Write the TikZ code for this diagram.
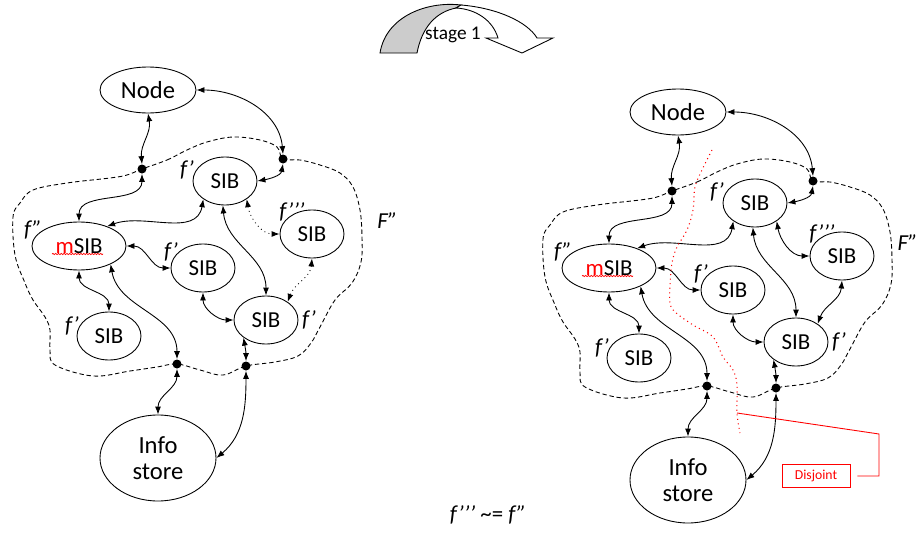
\documentclass[tikz,border=0pt]{standalone}
\usepackage{fontspec}
\setmainfont{Carlito}
\usetikzlibrary{shapes.geometric,arrows.meta,decorations.pathmorphing}
\tikzset{
  ell/.style={draw, ellipse, line width=0.5pt, inner sep=0pt},
  big/.style={ell, font=\fontsize{14}{15}\selectfont},
  sib/.style={ell, minimum width=1.28cm, minimum height=0.96cm, font=\fontsize{13}{14}\selectfont},
  dot/.style={circle, fill, inner sep=0pt, minimum size=0.18cm},
  flab/.style={font=\fontsize{13}{14}\selectfont\itshape, inner sep=0pt},
  conn/.style={{Latex[length=1.6mm,width=1.2mm]}-{Latex[length=1.6mm,width=1.2mm]}, line width=0.5pt},
  fence/.style={dash pattern=on 2.5pt off 1.6pt, line width=0.5pt},
  wavy/.style={red, line width=0.4pt, decorate, decoration={snake, amplitude=0.35pt, segment length=1.6pt}},
}
\begin{document}
\begin{tikzpicture}
\useasboundingbox (0,0) rectangle (18.38,10.64);

\filldraw[fill=gray!40, line width=0.5pt] (7.60,9.58) .. controls (7.72,10.32) and (8.55,10.62) .. (9.22,10.54) -- (9.12,10.48) .. controls (8.72,10.40) and (8.44,10.10) .. (8.34,9.58) -- cycle;
\filldraw[fill=white, line width=0.5pt] (9.22,10.54) .. controls (9.95,10.48) and (10.55,10.20) .. (10.74,9.88) -- (11.06,9.88) -- (10.44,9.58) -- (9.72,9.88) -- (9.96,9.88) .. controls (9.85,10.25) and (9.50,10.46) .. (9.12,10.48) -- cycle;
\node[font=\fontsize{11}{12}\selectfont] (stage) at (9.06,9.94) {stage 1};

\node[font=\fontsize{13}{14}\selectfont] (eq) at (9.76,0.34) {{\itshape f’’’} \textasciitilde= {\itshape f”}};

\begin{scope}
\draw[fence] plot[smooth cycle, tension=0.6] coordinates {(2.84,7.26) (3.34,7.44) (3.74,7.64) (4.14,7.80) (4.66,7.90) (5.20,7.84) (5.54,7.70) (5.66,7.46) (6.00,7.44) (6.40,7.34) (6.80,7.18) (7.06,6.90) (7.20,6.44) (7.24,5.90) (7.22,5.40) (7.04,4.98) (6.70,4.64) (6.40,4.10) (6.22,3.78) (5.96,3.52) (5.50,3.40) (4.92,3.32) (4.46,3.14) (4.00,3.24) (3.54,3.36) (3.14,3.30) (2.60,3.22) (1.86,3.12) (1.10,3.34) (1.00,3.64) (1.00,4.04) (0.90,4.30) (0.66,4.64) (0.50,4.98) (0.30,5.54) (0.26,6.30) (0.40,6.58) (0.66,6.84) (1.34,6.98) (2.20,7.08) (2.54,7.14)};

\node[big, minimum width=1.92cm, minimum height=0.92cm] (nodeA) at (2.96,8.84) {Node};
\node[sib] (sibA1) at (4.50,7.02) {SIB};
\node[sib] (sibA2) at (6.24,5.96) {SIB};
\node[sib, minimum width=1.88cm] (msibA) at (1.58,5.72) {\textcolor{red}{m}SIB};
\node[sib] (sibA3) at (4.06,5.28) {SIB};
\node[sib] (sibA4) at (5.32,4.24) {SIB};
\node[sib] (sibA5) at (2.18,3.92) {SIB};
\node[big, align=center, minimum width=2.32cm, minimum height=1.72cm] (infoA) at (3.16,1.48) {Info\\store};
\draw[wavy] ([xshift=-0.54cm,yshift=-0.16cm]msibA.center) -- ([xshift=0.48cm,yshift=-0.16cm]msibA.center);

\node[dot] (dA1) at (2.84,7.26) {};
\node[dot] (dA2) at (5.66,7.46) {};
\node[dot] (dA3) at (3.54,3.36) {};
\node[dot] (dA4) at (4.92,3.32) {};

\node[flab] (fA1) at (3.74,7.24) {f’};
\node[flab] (fA2) at (5.84,6.40) {f’’’};
\node[flab] (fA3) at (0.66,6.04) {f”};
\node[flab] (fA4) at (3.42,5.60) {f’};
\node[flab] (fA5) at (6.18,4.24) {f’};
\node[flab] (fA6) at (1.44,4.12) {f’};
\node[flab, anchor=west] (FA) at (7.54,6.22) {F”};

\draw [conn](nodeA.east) to[out=0,in=95] (dA2.north);
\draw [conn](nodeA.south) to[out=-80,in=95] (dA1.north);
\draw [conn](dA2.south) to[out=-100,in=10] (sibA1.east);
\draw [conn](dA1.south) to[out=-90,in=90] (msibA.north);
\draw [conn](sibA1.-140) to[out=-100,in=20] (msibA.35);
\draw [conn, dotted](sibA1.-40) to[out=-80,in=180] (sibA2.west);
\draw [conn](sibA1.-95) to[out=-85,in=90] (sibA4.north);
\draw [conn](msibA.east) to[out=0,in=180] (sibA3.west);
\draw [conn, dotted](sibA2.south) to[out=-95,in=70] (sibA4.40);
\draw [conn](sibA3.south) to[out=-90,in=180] (sibA4.west);
\draw [conn](msibA.south) to[out=-90,in=90] (sibA5.north);
\draw [conn](msibA.-30) to[out=-80,in=90] (dA3.north);
\draw [conn](sibA4.-142) to[out=-80,in=90] (dA4.north);
\draw [conn](dA3.south) to[out=-90,in=90] (infoA.north);
\draw [conn](dA4.south) to[out=-90,in=40] (infoA.east);
\end{scope}

\begin{scope}[shift={(10.6,-0.44)}]
\draw[fence] plot[smooth cycle, tension=0.6] coordinates {(2.84,7.26) (3.34,7.44) (3.74,7.64) (4.14,7.80) (4.66,7.90) (5.20,7.84) (5.54,7.70) (5.66,7.46) (6.00,7.44) (6.40,7.34) (6.80,7.18) (7.06,6.90) (7.20,6.44) (7.24,5.90) (7.22,5.40) (7.04,4.98) (6.70,4.64) (6.40,4.10) (6.22,3.78) (5.96,3.52) (5.50,3.40) (4.92,3.32) (4.46,3.14) (4.00,3.24) (3.54,3.36) (3.14,3.30) (2.60,3.22) (1.86,3.12) (1.10,3.34) (1.00,3.64) (1.00,4.04) (0.90,4.30) (0.66,4.64) (0.50,4.98) (0.30,5.54) (0.26,6.30) (0.40,6.58) (0.66,6.84) (1.34,6.98) (2.20,7.08) (2.54,7.14)};

\node[big, minimum width=1.92cm, minimum height=0.92cm] (nodeB) at (2.96,8.84) {Node};
\node[sib] (sibB1) at (4.50,7.02) {SIB};
\node[sib] (sibB2) at (6.24,5.96) {SIB};
\node[sib, minimum width=1.88cm] (msibB) at (1.58,5.72) {\textcolor{red}{m}SIB};
\node[sib] (sibB3) at (4.06,5.28) {SIB};
\node[sib] (sibB4) at (5.32,4.24) {SIB};
\node[sib] (sibB5) at (2.18,3.92) {SIB};
\node[big, align=center, minimum width=2.32cm, minimum height=1.72cm] (infoB) at (3.16,1.48) {Info\\store};
\draw[wavy] ([xshift=-0.54cm,yshift=-0.16cm]msibB.center) -- ([xshift=0.48cm,yshift=-0.16cm]msibB.center);

\node[dot] (dB1) at (2.84,7.26) {};
\node[dot] (dB2) at (5.66,7.46) {};
\node[dot] (dB3) at (3.54,3.36) {};
\node[dot] (dB4) at (4.92,3.32) {};

\node[flab] (fB1) at (3.74,7.24) {f’};
\node[flab] (fB2) at (5.84,6.40) {f’’’};
\node[flab] (fB3) at (0.66,6.04) {f”};
\node[flab] (fB4) at (3.42,5.60) {f’};
\node[flab] (fB5) at (6.18,4.24) {f’};
\node[flab] (fB6) at (1.44,4.12) {f’};
\node[flab, anchor=east] (FB) at (7.76,6.22) {F”};

\draw [conn](nodeB.east) to[out=0,in=95] (dB2.north);
\draw [conn](nodeB.south) to[out=-80,in=95] (dB1.north);
\draw [conn](dB2.south) to[out=-100,in=10] (sibB1.east);
\draw [conn](dB1.south) to[out=-90,in=90] (msibB.north);
\draw [conn](sibB1.-140) to[out=-100,in=20] (msibB.35);
\draw [conn](sibB1.-40) to[out=-80,in=180] (sibB2.west);
\draw [conn](sibB1.-95) to[out=-85,in=90] (sibB4.north);
\draw [conn](msibB.east) to[out=0,in=180] (sibB3.west);
\draw [conn](sibB2.south) to[out=-95,in=70] (sibB4.40);
\draw [conn](sibB3.south) to[out=-90,in=180] (sibB4.west);
\draw [conn](msibB.south) to[out=-90,in=90] (sibB5.north);
\draw [conn](msibB.-30) to[out=-80,in=90] (dB3.north);
\draw [conn](sibB4.-142) to[out=-80,in=90] (dB4.north);
\draw [conn](dB3.south) to[out=-90,in=90] (infoB.north);
\draw [conn](dB4.south) to[out=-90,in=40] (infoB.east);
\end{scope}

\draw[red, dotted, line width=0.6pt] plot[smooth, tension=0.6] coordinates {(14.24,7.64) (14.04,7.24) (13.90,6.90) (13.86,6.44) (13.74,6.04) (13.54,5.70) (13.44,5.38) (13.40,4.90) (13.40,4.58) (13.50,4.40) (13.86,4.14) (14.26,3.90) (14.46,3.50) (14.66,3.24) (14.74,2.94) (14.74,2.38) (14.80,1.98)};
\coordinate (cut) at (14.74,2.38);
\node[draw=red, text=red, line width=0.5pt, minimum width=1.36cm, minimum height=0.46cm, inner sep=0pt, font=\fontsize{7.8}{9}\selectfont] (disj) at (16.32,1.12) {Disjoint};
\draw[red, line width=0.5pt] (cut) -- (17.58,1.96) |- ([xshift=0.14cm]disj.east);
\end{tikzpicture}
\end{document}
